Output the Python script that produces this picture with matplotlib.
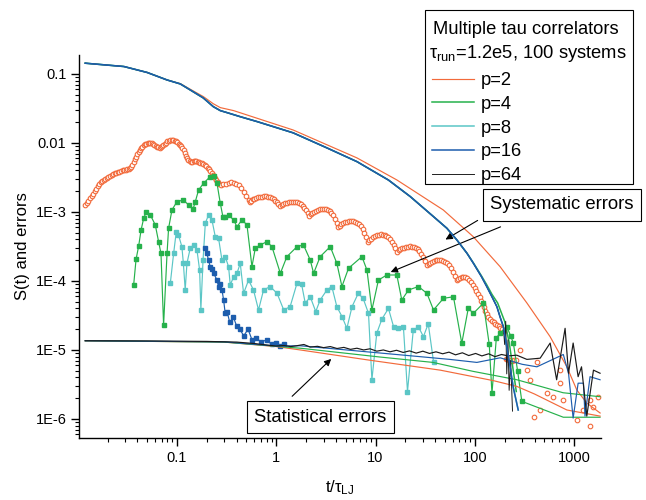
import matplotlib
matplotlib.use('Agg')
import matplotlib.pyplot as plt
from matplotlib.patches import Rectangle
from matplotlib.ticker import LogLocator, NullFormatter, FixedLocator, FixedFormatter

plt.rcParams['font.family'] = ['Liberation Sans', 'DejaVu Sans']
plt.rcParams['mathtext.fontset'] = 'custom'
plt.rcParams['mathtext.rm'] = 'Liberation Sans'
plt.rcParams['mathtext.it'] = 'Liberation Sans'

# ---------------- data ----------------
# S(t) (p=8,16 coincide)
t_S = [0.0119, 0.0292, 0.05, 0.0793, 0.108, 0.136, 0.184, 0.232, 0.273, 0.319, 0.434, 0.64,
       1.48, 3.24, 6.5, 13.5, 22.4, 38.4, 52.4, 66, 83.5, 97, 117, 132, 149, 167, 180, 194,
       210, 227, 244, 274]
S_main = [0.143, 0.128, 0.105, 0.0818, 0.0716, 0.0586, 0.0449, 0.0336, 0.0294, 0.0275, 0.024,
          0.0204, 0.0140, 0.00847, 0.00536, 0.0029, 1.67e-3, 8.55e-4, 5.8e-4, 3.93e-4, 2.52e-4,
          1.8e-4, 1.15e-4, 8.3e-5, 5.9e-5, 4.24e-5, 3.0e-5, 2.18e-5, 1.12e-5, 5.7e-6, 2.9e-6,
          1.35e-6]
# S(t) for p=64 (noisy end)
t_S64 = [0.0119, 0.0292, 0.05, 0.0793, 0.108, 0.136, 0.184, 0.232, 0.273, 0.319, 0.434, 0.64,
         1.48, 3.24, 6.5, 13.5, 22.4, 38.4, 52.4, 66, 83.5, 97, 117, 132, 149, 167, 180, 194,
         200, 205, 210, 216, 222, 230, 240]
S_p64 = [0.143, 0.128, 0.105, 0.0818, 0.0716, 0.0586, 0.0449, 0.0336, 0.0294, 0.0275, 0.024,
         0.0204, 0.0140, 0.00847, 0.00536, 0.0029, 1.67e-3, 8.55e-4, 5.8e-4, 3.93e-4, 2.52e-4,
         1.8e-4, 1.15e-4, 8.3e-5, 5.9e-5, 4.24e-5, 3.0e-5, 2.18e-5, 1.2e-5, 2.6e-5, 4.5e-6,
         1.4e-5, 2.6e-6, 7e-6, 1.3e-6]
# S(t) for p=2
t_S2 = [0.0119, 0.0292, 0.05, 0.0793, 0.108, 0.136, 0.184, 0.232, 0.273, 0.372, 0.64, 1.48,
        3.24, 6.5, 16.4, 48.1, 96.4, 180, 335, 574, 847, 1067, 1345, 1832]
S_p2 = [0.143, 0.128, 0.105, 0.0818, 0.0725, 0.060, 0.047, 0.037, 0.0325, 0.0294, 0.0228,
        0.0154, 0.0094, 0.00607, 0.00291, 0.00107, 4.39e-4, 1.61e-4, 4.8e-5, 1.56e-5, 5.7e-6,
        2.63e-6, 1.7e-6, 1.22e-6]
# S(t) for p=4 (slight deviation at the end)
t_S4 = [0.0119, 0.0292, 0.05, 0.0793, 0.108, 0.136, 0.184, 0.232, 0.273, 0.319, 0.434, 0.64,
        1.48, 3.24, 6.5, 13.5, 22.4, 38.4, 52.4, 66, 83.5, 97, 117, 132, 149, 170, 200, 222,
        240, 262]
S_p4 = [0.143, 0.128, 0.105, 0.0818, 0.0716, 0.0586, 0.0449, 0.0336, 0.0294, 0.0275, 0.024,
        0.0204, 0.0140, 0.00847, 0.00536, 0.0029, 1.67e-3, 8.55e-4, 5.8e-4, 3.93e-4, 2.52e-4,
        1.82e-4, 1.18e-4, 8.8e-5, 6.4e-5, 4.8e-5, 2.6e-5, 1.3e-5, 6e-6, 2.5e-6]

# systematic errors, p=2 (open circles)
t_sys2 = [0.0119, 0.0124, 0.0128, 0.0133, 0.0138, 0.0143, 0.0148, 0.0153, 0.0159, 0.0165,
          0.0170, 0.0176, 0.0183, 0.0190, 0.0197, 0.0204, 0.0212, 0.0220, 0.0228, 0.0236,
          0.0245, 0.0254, 0.0263, 0.0273, 0.0283, 0.0293, 0.0304, 0.0315, 0.0327, 0.0336,
          0.0345, 0.0355, 0.0365, 0.0375, 0.0385, 0.0397, 0.0410, 0.0422, 0.0435, 0.0447,
          0.0460, 0.0475, 0.0490, 0.0505, 0.0520, 0.0537, 0.0555, 0.0572, 0.0590, 0.0610,
          0.0630, 0.0650, 0.0670, 0.0690, 0.0710, 0.0730, 0.0750, 0.0775, 0.0800, 0.0830,
          0.0860, 0.0890, 0.0920, 0.0950, 0.0980, 0.1010, 0.1040, 0.1070, 0.1100, 0.1135,
          0.1170, 0.1205, 0.1240, 0.1270, 0.1300, 0.1340, 0.1380, 0.1425, 0.1470, 0.1520,
          0.1570, 0.1620, 0.1670, 0.1725, 0.1780, 0.1840, 0.1900, 0.1965, 0.2030, 0.2100,
          0.2170, 0.2245, 0.2320, 0.2400, 0.2480, 0.2565, 0.2650, 0.2790, 0.294, 0.312,
          0.331, 0.351, 0.372, 0.394, 0.417, 0.442, 0.469, 0.497, 0.526, 0.547, 0.563, 0.58,
          0.60, 0.62, 0.65, 0.68, 0.715, 0.75, 0.785, 0.82, 0.86, 0.9, 0.94, 0.98, 1.015,
          1.05, 1.094, 1.13, 1.17, 1.22, 1.27, 1.33, 1.4, 1.47, 1.55, 1.62, 1.7, 1.77, 1.85,
          1.92, 2.0, 2.07, 2.15, 2.22, 2.3, 2.4, 2.5, 2.62, 2.75, 2.87, 3.0, 3.15, 3.3, 3.45,
          3.6, 3.75, 3.9, 4.05, 4.2, 4.35, 4.5, 4.7, 4.9, 5.15, 5.4, 5.65, 5.9, 6.2, 6.5,
          6.8, 7.1, 7.4, 7.7, 8.05, 8.4, 8.7, 9.0, 9.4, 9.8, 10.3, 10.8, 11.3, 11.8, 12.35,
          12.9, 13.45, 14.0, 14.6, 15.2, 15.9, 16.6, 17.2, 17.8, 18.6, 19.4, 20.3, 21.2, 22.2,
          23.2, 24.3, 25.4, 26.5, 27.7, 28.9, 30.2, 31.6, 33, 34.2, 35.5, 37, 38.6, 40.3, 42,
          44, 46, 48, 50, 52.5, 55, 57.5, 60, 63, 66, 68.5, 71, 74, 77, 80.5, 84, 88, 92, 96,
          100, 104, 108, 112, 116, 120, 124, 128, 132, 137, 142, 148, 155, 161, 168, 174, 180,
          187, 195, 205, 212, 220, 230, 240, 251, 262, 286, 335, 361, 391, 422, 456, 532, 621,
          724, 724, 782, 1067, 1245, 1452, 1452, 1570, 1762]
v_sys2 = [1.26e-3, 1.35e-3, 1.45e-3, 1.57e-3, 1.7e-3, 1.85e-3, 2.0e-3, 2.17e-3, 2.35e-3,
          2.53e-3, 2.7e-3, 2.83e-3, 2.95e-3, 3.05e-3, 3.15e-3, 3.25e-3, 3.35e-3, 3.45e-3,
          3.55e-3, 3.63e-3, 3.7e-3, 3.78e-3, 3.85e-3, 3.93e-3, 4.0e-3, 4.05e-3, 4.1e-3,
          4.15e-3, 4.2e-3, 4.3e-3, 4.5e-3, 4.85e-3, 5.3e-3, 5.8e-3, 6.3e-3, 6.85e-3, 7.4e-3,
          7.9e-3, 8.4e-3, 8.8e-3, 9.2e-3, 9.5e-3, 9.8e-3, 9.95e-3, 1.0e-2, 1.0e-2, 9.9e-3,
          9.65e-3, 9.4e-3, 9.1e-3, 8.8e-3, 8.6e-3, 8.4e-3, 8.6e-3, 8.9e-3, 9.3e-3, 9.7e-3,
          1.01e-2, 1.05e-2, 1.08e-2, 1.1e-2, 1.11e-2, 1.1e-2, 1.08e-2, 1.05e-2, 1.02e-2, 9.8e-3,
          9.4e-3, 9.0e-3, 8.4e-3, 7.8e-3, 7.1e-3, 6.5e-3, 6.0e-3, 5.6e-3, 5.4e-3, 5.3e-3,
          5.35e-3, 5.4e-3, 5.4e-3, 5.4e-3, 5.35e-3, 5.3e-3, 5.2e-3, 5.1e-3, 4.95e-3, 4.8e-3,
          4.6e-3, 4.4e-3, 4.15e-3, 3.9e-3, 3.65e-3, 3.4e-3, 3.15e-3, 2.9e-3, 2.7e-3, 2.5e-3,
          2.47e-3, 2.5e-3, 2.58e-3, 2.66e-3, 2.68e-3, 2.66e-3, 2.58e-3, 2.46e-3, 2.25e-3,
          1.97e-3, 1.72e-3, 1.49e-3, 1.41e-3, 1.46e-3, 1.52e-3, 1.56e-3, 1.6e-3, 1.63e-3,
          1.66e-3, 1.67e-3, 1.68e-3, 1.68e-3, 1.66e-3, 1.63e-3, 1.58e-3, 1.52e-3, 1.45e-3,
          1.38e-3, 1.3e-3, 1.22e-3, 1.26e-3, 1.3e-3, 1.34e-3, 1.37e-3, 1.39e-3, 1.4e-3, 1.41e-3,
          1.4e-3, 1.38e-3, 1.35e-3, 1.3e-3, 1.22e-3, 1.14e-3, 1.05e-3, 9.7e-4, 8.8e-4, 9.2e-4,
          9.6e-4, 1.0e-3, 1.04e-3, 1.07e-3, 1.09e-3, 1.1e-3, 1.1e-3, 1.1e-3, 1.06e-3, 1.02e-3,
          9.6e-4, 8.9e-4, 8.0e-4, 7.0e-4, 6.1e-4, 6.35e-4, 6.6e-4, 6.9e-4, 7.1e-4, 7.25e-4,
          7.3e-4, 7.3e-4, 7.3e-4, 7.2e-4, 7.0e-4, 6.7e-4, 6.2e-4, 5.65e-4, 5.0e-4, 4.35e-4,
          3.7e-4, 3.9e-4, 4.1e-4, 4.3e-4, 4.5e-4, 4.6e-4, 4.7e-4, 4.72e-4, 4.7e-4, 4.65e-4,
          4.5e-4, 4.3e-4, 4.0e-4, 3.65e-4, 3.3e-4, 3.0e-4, 2.66e-4, 2.8e-4, 2.9e-4, 3.0e-4,
          3.05e-4, 3.12e-4, 3.15e-4, 3.16e-4, 3.15e-4, 3.1e-4, 3.0e-4, 2.87e-4, 2.7e-4, 2.47e-4,
          2.2e-4, 1.95e-4, 1.7e-4, 1.78e-4, 1.85e-4, 1.9e-4, 1.95e-4, 1.98e-4, 2.0e-4, 2.0e-4,
          2.0e-4, 1.97e-4, 1.9e-4, 1.8e-4, 1.7e-4, 1.53e-4, 1.35e-4, 1.18e-4, 1.03e-4, 1.07e-4,
          1.1e-4, 1.13e-4, 1.15e-4, 1.13e-4, 1.1e-4, 1.03e-4, 9.5e-5, 8.7e-5, 8.0e-5, 7.2e-5,
          6.5e-5, 5.8e-5, 5.2e-5, 4.7e-5, 4.2e-5, 3.7e-5, 3.3e-5, 3.0e-5, 2.8e-5, 2.65e-5,
          2.5e-5, 2.4e-5, 2.3e-5, 2.2e-5, 2.1e-5, 2.0e-5, 1.9e-5, 7.5e-6, 7.3e-6, 7.2e-6, 7.1e-6,
          7.0e-6, 7.1e-6, 7.2e-6, 1e-5, 5.1e-6, 3.7e-6, 1.08e-6, 6.8e-6, 1.35e-6, 2.35e-6,
          2.1e-6, 5.1e-6, 3.3e-6, 1.88e-6, 9.7e-7, 1.35e-6, 7.8e-7, 1.88e-6, 1.5e-6, 2.1e-6]

# systematic errors, p=4 (green squares)
t_sys4 = [0.0366, 0.0387, 0.0411, 0.0435, 0.0462, 0.0491, 0.0539, 0.0604, 0.0653, 0.069,
          0.0733, 0.0794, 0.0823, 0.089, 0.1, 0.116, 0.131, 0.145, 0.153, 0.165, 0.185,
          0.216, 0.238, 0.253, 0.273, 0.29, 0.306, 0.331, 0.372, 0.402, 0.451, 0.507, 0.569,
          0.615, 0.69, 0.806, 0.905, 1.1, 1.28, 1.62, 1.88, 2.2, 2.38, 2.77, 3.5, 4.08, 4.59,
          5.35, 7.3, 8.2, 9.2, 10.7, 13, 16.4, 18.4, 21.5, 27.1, 33, 38.4, 48.4, 61, 74, 86,
          97, 122, 140, 149, 165, 180, 210, 230, 245, 270, 298]
v_sys4 = [8.75e-5, 2.06e-4, 3.2e-4, 5.5e-4, 8.1e-4, 1.01e-3, 9.05e-4, 6.5e-4, 3.7e-4, 2.5e-4,
          2.3e-5, 2.5e-4, 5.8e-4, 1.07e-3, 1.41e-3, 1.49e-3, 1.26e-3, 1.09e-3, 1.41e-3, 2.08e-3,
          2.6e-3, 3.25e-3, 3.33e-3, 2.6e-3, 1.34e-3, 8.55e-4, 8.55e-4, 9.05e-4, 7.65e-4, 6.1e-4,
          7.65e-4, 6.5e-4, 1.61e-4, 2.98e-4, 3.33e-4, 3.7e-4, 3.14e-4, 1.29e-4, 2.25e-4, 3.14e-4,
          3.33e-4, 2.01e-4, 1.29e-4, 2.25e-4, 3.14e-4, 1.8e-4, 8.3e-5, 1.53e-4, 2.25e-4, 1.44e-4,
          3.8e-5, 1.03e-4, 1.22e-4, 1.22e-4, 5.3e-5, 7.4e-5, 8.3e-5, 6.6e-5, 3.8e-5, 5.6e-5,
          5.9e-5, 1.25e-5, 4.0e-5, 3.4e-5, 4.75e-5, 1.2e-5, 2.35e-6, 1.5e-5, 1.75e-5, 2.18e-5,
          1.6e-5, 1.25e-5, 5e-6, 1.8e-6]
t_sys4_tail = [298, 780, 1830]
v_sys4_tail = [1.8e-6, 1.06e-6, 1.06e-6]

# systematic errors, p=8 (cyan squares)
t_sys8 = [0.0857, 0.0925, 0.0984, 0.1035, 0.112, 0.116, 0.121, 0.126, 0.136, 0.147, 0.159,
          0.169, 0.174, 0.183, 0.193, 0.208, 0.225, 0.243, 0.262, 0.284, 0.306, 0.331, 0.344,
          0.372, 0.402, 0.434, 0.469, 0.526, 0.59, 0.663, 0.745, 0.87, 1.02, 1.19, 1.38, 1.62,
          1.8, 1.96, 2.2, 2.5, 2.77, 3.24, 3.63, 4.08, 4.6, 5.15, 5.8, 6.7, 7.5, 8.5, 9.2,
          10.3, 11.6, 13.5, 15.2, 17.0, 19.1, 21, 24, 27, 30.4, 34, 38.4]
v_sys8 = [9.3e-5, 2.5e-4, 5.2e-4, 4.65e-4, 3.14e-4, 1.8e-4, 7.4e-5, 1.8e-4, 2.98e-4, 3.33e-4,
          2.8e-4, 1.44e-4, 3.8e-5, 2.0e-4, 6.9e-4, 9.05e-4, 7.65e-4, 4.4e-4, 4.2e-4, 2.0e-4,
          2.25e-4, 1.61e-4, 8.75e-5, 1.15e-4, 1.29e-4, 1.8e-4, 6.6e-5, 1.03e-4, 7.4e-5, 3.8e-5,
          7.4e-5, 8.3e-5, 6.6e-5, 3.8e-5, 4.24e-5, 9.3e-5, 9e-5, 4.75e-5, 5.9e-5, 3.6e-5, 5.3e-5,
          7.4e-5, 8.3e-5, 4.24e-5, 3.04e-5, 2.06e-5, 4.24e-5, 6.6e-5, 5.6e-5, 3.4e-5, 3.7e-6,
          1.75e-5, 2.8e-5, 4.0e-5, 2.18e-5, 2.06e-5, 2.18e-5, 2.5e-6, 1.92e-5, 2.18e-5, 1.56e-5,
          2.4e-5, 6.8e-6]

# systematic errors, p=16 (blue squares)
t_sys16 = [0.193, 0.200, 0.208, 0.216, 0.225, 0.234, 0.253, 0.262, 0.273, 0.284, 0.295, 0.306,
           0.32, 0.34, 0.37, 0.40, 0.43, 0.47, 0.52, 0.57, 0.63, 0.7, 0.8, 0.9, 1.0, 1.1, 1.2]
v_sys16 = [2.98e-4, 2.5e-4, 2.0e-4, 1.61e-4, 1.5e-4, 1.29e-4, 1.03e-4, 8.3e-5, 9.0e-5, 7.4e-5,
           5.3e-5, 3.4e-5, 3.6e-5, 2.5e-5, 3.0e-5, 2.2e-5, 2.0e-5, 1.6e-5, 2.0e-5, 1.4e-5,
           1.5e-5, 1.3e-5, 1.4e-5, 1.2e-5, 1.25e-5, 1.15e-5, 1.2e-5]

# statistical errors
t_st2 = [0.0119, 0.3, 1.0, 1.75, 8.2, 44.9, 153, 266, 400, 847, 1830]
v_st2 = [1.36e-5, 1.3e-5, 1.12e-5, 1.0e-5, 7.2e-6, 5.1e-6, 3.6e-6, 2.96e-6, 2.3e-6, 1.35e-6, 1.1e-6]
t_st4 = [0.0119, 0.3, 1.0, 1.75, 11.1, 38, 96, 266, 776, 1830]
v_st4 = [1.36e-5, 1.3e-5, 1.13e-5, 1.06e-5, 7.9e-6, 6.6e-6, 4.9e-6, 3.7e-6, 2.4e-6, 2.1e-6]
t_st16 = [0.0119, 0.3, 1.0, 1.75, 17.7, 56, 105, 180, 300, 423, 780, 880, 980, 1100, 1245,
          1290, 1450, 1830]
v_st16 = [1.36e-5, 1.31e-5, 1.14e-5, 1.15e-5, 8.5e-6, 7.3e-6, 6.6e-6, 7.7e-6, 6.2e-6, 5.7e-6,
          8.6e-6, 4.6e-6, 1.03e-6, 3.3e-6, 3.3e-6, 1.1e-6, 4.1e-6, 3.7e-6]
t_st64 = [0.0119, 0.05, 0.2, 0.4, 0.6, 0.8, 1.0, 1.2, 1.4, 1.6, 1.9, 2.2, 2.6, 3.0, 3.5, 4.1,
          4.8, 5.6, 6.5, 7.6, 8.8, 10.3, 12, 14, 16.3, 19, 22, 25.7, 30, 35, 40.7, 47.5, 55,
          64, 75, 87, 102, 118, 138, 160, 186, 217, 265, 335, 456, 575, 668, 813, 880, 980,
          1100, 1190, 1345, 1570, 1830]
v_st64 = [1.36e-5, 1.35e-5, 1.33e-5, 1.3e-5, 1.24e-5, 1.18e-5, 1.14e-5, 1.16e-5, 1.12e-5,
          1.15e-5, 1.2e-5, 1.1e-5, 1.13e-5, 1.08e-5, 1.12e-5, 1.05e-5, 1.09e-5, 1.02e-5,
          1.06e-5, 1.0e-5, 1.04e-5, 9.6e-6, 1.0e-5, 9.4e-6, 9.9e-6, 9.2e-6, 9.7e-6, 9.0e-6,
          9.6e-6, 8.9e-6, 9.4e-6, 8.8e-6, 9.3e-6, 8.5e-6, 9.1e-6, 8.3e-6, 8.9e-6, 8.2e-6,
          8.8e-6, 8.0e-6, 8.6e-6, 8.2e-6, 8.4e-6, 7.3e-6, 7.6e-6, 1.26e-5, 3.7e-6, 2.06e-5,
          4.6e-6, 1.26e-5, 4.1e-6, 5.7e-6, 1.1e-6, 5.1e-6, 4.6e-6]

legend_labels = ['p=2', 'p=4', 'p=8', 'p=16', 'p=64']
legend_title = ['Multiple tau correlators', r'$\tau_{\rm run}$=1.2e5, 100 systems']

# ---------------- styles ----------------
C2, C4, C8, C16, C64 = '#F26A3B', '#26B14B', '#5BC6C6', '#1D5DAD', '#1A1A1A'
LW = 0.85

fig = plt.figure(figsize=(6.46, 5.0), dpi=100)
ax = fig.add_axes([79/646, 62/500, (601-79)/646, (438-55)/500])

# S(t)
h2, = ax.plot(t_S2, S_p2, color=C2, lw=LW, zorder=3)
h4, = ax.plot(t_S4, S_p4, color=C4, lw=LW*1.3, zorder=3)
h8, = ax.plot(t_S, S_main, color=C8, lw=LW*1.3, zorder=3)
h64, = ax.plot(t_S64, S_p64, color=C64, lw=LW*0.8, zorder=4)
h16, = ax.plot(t_S, S_main, color=C16, lw=LW*1.3, zorder=4)

# statistical errors
ax.plot(t_st2, v_st2, color=C2, lw=LW, zorder=3)
ax.plot(t_st4, v_st4, color=C4, lw=LW, zorder=3)
ax.plot(t_st16, v_st16, color=C16, lw=LW, zorder=3)
ax.plot(t_st64, v_st64, color=C64, lw=LW, zorder=3)

# systematic errors
ax.plot(t_sys2, v_sys2, ls='none', marker='o', ms=3.3, mfc='white', mec=C2, mew=0.8, zorder=2)
ax.plot(t_sys4, v_sys4, color=C4, lw=LW, marker='s', ms=3.0, mfc=C4, mec=C4, zorder=2)
ax.plot(t_sys4_tail, v_sys4_tail, color=C4, lw=LW, zorder=2)
ax.plot(t_sys8, v_sys8, color=C8, lw=LW, marker='s', ms=3.0, mfc=C8, mec=C8, zorder=2)
ax.plot(t_sys16, v_sys16, color=C16, lw=LW, marker='s', ms=3.0, mfc=C16, mec=C16, zorder=2)

ax.set_xscale('log')
ax.set_yscale('log')
ax.set_xlim(0.0103, 1870)
ax.set_ylim(5.3e-7, 0.188)

xt = [0.1, 1, 10, 100, 1000]
ax.xaxis.set_major_locator(FixedLocator(xt))
ax.xaxis.set_major_formatter(FixedFormatter(['0.1', '1', '10', '100', '1000']))
yt = [1e-6, 1e-5, 1e-4, 1e-3, 0.01, 0.1]
ax.yaxis.set_major_locator(FixedLocator(yt))
ax.yaxis.set_major_formatter(FixedFormatter(['1E-6', '1E-5', '1E-4', '1E-3', '0.01', '0.1']))
ax.xaxis.set_minor_locator(LogLocator(base=10, subs=range(2, 10), numticks=20))
ax.yaxis.set_minor_locator(LogLocator(base=10, subs=range(2, 10), numticks=20))
ax.xaxis.set_minor_formatter(NullFormatter())
ax.yaxis.set_minor_formatter(NullFormatter())
ax.tick_params(which='major', direction='out', length=6, width=1, labelsize=10.5, pad=3)
ax.tick_params(which='minor', direction='out', length=3, width=0.8)
for s in ['top', 'right']:
    ax.spines[s].set_visible(False)
for s in ['left', 'bottom']:
    ax.spines[s].set_linewidth(1.0)

ax.set_ylabel('S(t) and errors', fontsize=12)
ax.set_xlabel(r't/$\tau_{\rm LJ}$', fontsize=12, labelpad=10)

# annotations
bb = dict(boxstyle='square,pad=0.4', fc='white', ec='black', lw=0.8)
fig.text(562/646, 1-205/500, 'Systematic errors', fontsize=13.3, ha='center', va='center', bbox=bb, zorder=10)
fig.text(320.5/646, 1-417/500, 'Statistical errors', fontsize=13.3, ha='center', va='center', bbox=bb, zorder=10)
ap = dict(arrowstyle='-|>', color='black', lw=0.8, mutation_scale=10)
ax.annotate('', xy=(48, 3.8e-4), xytext=(113, 7.9e-4), arrowprops=ap, annotation_clip=False)
ax.annotate('', xy=(13.4, 1.3e-4), xytext=(193, 6.3e-4), arrowprops=ap, annotation_clip=False)
ax.annotate('', xy=(3.75, 7.9e-6), xytext=(1.38, 2.0e-6), arrowprops=ap, annotation_clip=False)

# legend: frame + title lines + entries
frame = Rectangle((425/646, 1-184/500), 208/646, 174/500, transform=fig.transFigure,
                  fc='white', ec='black', lw=0.8, zorder=4)
fig.patches.append(frame)
fig.text(433/646, 1-29/500, legend_title[0], fontsize=13.2, ha='left', va='center', zorder=6)
fig.text(429/646, 1-53/500, legend_title[1], fontsize=13.2, ha='left', va='center', zorder=6)
leg = fig.legend([h2, h4, h8, h16, h64], legend_labels, loc='upper left',
                 bbox_to_anchor=(432/646, 1-72/500), frameon=False, fontsize=13.2,
                 handlelength=2.3, handletextpad=0.35, labelspacing=0.37, borderpad=0,
                 borderaxespad=0)
leg.set_zorder(7)

fig.savefig('out.png', dpi=100)
